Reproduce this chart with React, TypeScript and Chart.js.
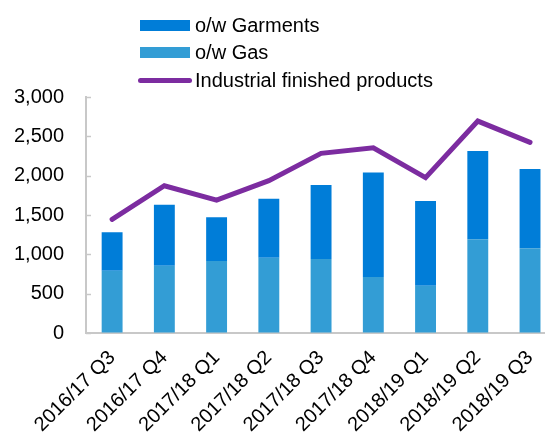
import React, { useEffect, useRef } from "react";
import { Chart, registerables } from "chart.js";

Chart.register(...registerables);

const categories = [
  "2016/17 Q3", "2016/17 Q4", "2017/18 Q1", "2017/18 Q2", "2017/18 Q3",
  "2017/18 Q4", "2018/19 Q1", "2018/19 Q2", "2018/19 Q3",
];
const gas = [790, 855, 915, 957, 940, 712, 601, 1191, 1076];
const garments = [490, 775, 555, 748, 940, 1328, 1077, 1122, 1008];
const industrial = [1445, 1872, 1690, 1936, 2284, 2355, 1974, 2694, 2424];
const yTicks = [0, 500, 1000, 1500, 2000, 2500, 3000];

const GARMENTS_COLOR = "#007DD8";
const GAS_COLOR = "#339DD5";
const LINE_COLOR = "#7C2CA0";
const AXIS_COLOR = "#C8C8C8";
const FONT = "'Liberation Sans', Arial, sans-serif";
const FONT_SIZE = 20;

const innerTicks = {
  id: "innerTicks",
  afterDraw(chart: any) {
    const y = chart.scales.y;
    const ctx = chart.ctx;
    ctx.save();
    ctx.strokeStyle = AXIS_COLOR;
    ctx.lineWidth = 1.5;
    yTicks.forEach((v) => {
      const py = Math.round(y.getPixelForValue(v)) + 0.5;
      ctx.beginPath();
      ctx.moveTo(y.right, py);
      ctx.lineTo(y.right + 5, py);
      ctx.stroke();
    });
    ctx.restore();
  },
};

export default function App() {
  const ref = useRef<HTMLCanvasElement | null>(null);

  useEffect(() => {
    if (!ref.current) return;
    const chart = new Chart(ref.current, {
      type: "bar",
      plugins: [innerTicks],
      data: {
        labels: categories,
        datasets: [
          {
            type: "line",
            label: "Industrial finished products",
            data: industrial,
            borderColor: LINE_COLOR,
            backgroundColor: LINE_COLOR,
            borderWidth: 5,
            pointRadius: 0,
            borderCapStyle: "round",
            borderJoinStyle: "miter",
            tension: 0,
            stack: "line",
            order: 0,
          } as any,
          {
            type: "bar",
            label: "o/w Gas",
            data: gas,
            backgroundColor: GAS_COLOR,
            stack: "bars",
            order: 1,
            barPercentage: 0.4,
            categoryPercentage: 1,
          },
          {
            type: "bar",
            label: "o/w Garments",
            data: garments,
            backgroundColor: GARMENTS_COLOR,
            stack: "bars",
            order: 1,
            barPercentage: 0.4,
            categoryPercentage: 1,
          },
        ],
      },
      options: {
        responsive: false,
        animation: false,
        devicePixelRatio: 1,
        layout: { padding: { top: 97, right: 0, left: 0, bottom: 0 } },
        plugins: {
          legend: { display: false },
          tooltip: { enabled: false },
        },
        scales: {
          x: {
            stacked: true,
            grid: { display: false, drawTicks: false },
            border: { display: true, color: AXIS_COLOR, width: 2 },
            ticks: {
              color: "#000",
              font: { family: FONT, size: FONT_SIZE },
              maxRotation: 45,
              minRotation: 45,
              padding: 13,
              autoSkip: false,
            },
            afterFit: (scale: any) => {
              scale.height = 104;
            },
          },
          y: {
            stacked: true,
            min: 0,
            max: 3000,
            afterBuildTicks: (scale: any) => {
              scale.ticks = yTicks.map((v) => ({ value: v }));
            },
            grid: {
              display: true,
              drawOnChartArea: false,
              drawTicks: false,
              color: AXIS_COLOR,
            },
            border: { display: true, color: AXIS_COLOR, width: 2 },
            ticks: {
              color: "#000",
              font: { family: FONT, size: FONT_SIZE },
              padding: 22,
              callback: (v: any) => Number(v).toLocaleString("en-US"),
            },
            afterFit: (scale: any) => {
              scale.width = 86;
            },
          },
        },
      },
    });
    return () => chart.destroy();
  }, []);

  const legendItems = [
    { label: "o/w Garments", color: GARMENTS_COLOR, kind: "bar", cy: 25 },
    { label: "o/w Gas", color: GAS_COLOR, kind: "bar", cy: 52.5 },
    { label: "Industrial finished products", color: LINE_COLOR, kind: "line", cy: 80.5 },
  ];

  return (
    <div
      style={{
        position: "fixed",
        left: 0,
        top: 0,
        width: 545,
        height: 437,
        overflow: "hidden",
        background: "#fff",
      }}
    >
      <canvas ref={ref} width={560} height={437} style={{ display: "block" }} />
      {legendItems.map((it) => (
        <div
          key={it.label}
          style={{
            position: "absolute",
            left: 138,
            top: it.cy - 12,
            height: 24,
            display: "flex",
            alignItems: "center",
            fontFamily: FONT,
            fontSize: FONT_SIZE,
            color: "#000",
            whiteSpace: "nowrap",
          }}
        >
          {it.kind === "bar" ? (
            <span
              style={{
                display: "inline-block",
                width: 50,
                height: 11,
                marginLeft: 2,
                marginRight: 5,
                background: it.color,
              }}
            />
          ) : (
            <span
              style={{
                display: "inline-block",
                width: 54,
                height: 5,
                borderRadius: 3,
                marginRight: 3,
                background: it.color,
              }}
            />
          )}
          <span>{it.label}</span>
        </div>
      ))}
    </div>
  );
}
